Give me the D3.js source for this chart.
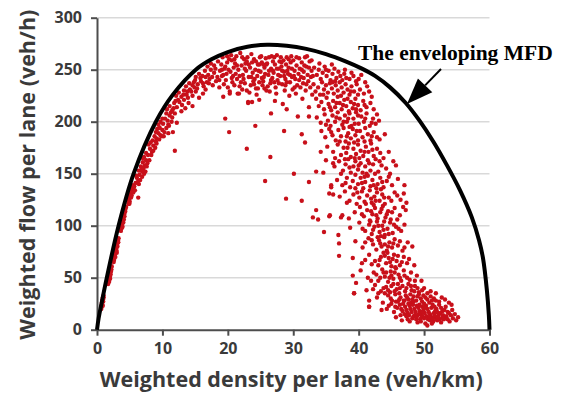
<!DOCTYPE html>
<html>
<head>
<meta charset="utf-8">
<script src="https://cdn.jsdelivr.net/npm/d3@7"></script>
<style>
  html, body { margin: 0; padding: 0; background: #ffffff; }
  svg { display: block; }
</style>
</head>
<body>
<svg id="chart" width="563" height="393"></svg>
<script>
// ---------- data ----------
const xTicks = [0, 10, 20, 30, 40, 50, 60];
const yTicks = [0, 50, 100, 150, 200, 250, 300];
const xTitle = "Weighted density per lane (veh/km)";
const yTitle = "Weighted flow per lane (veh/h)";
const annotationText = "The enveloping MFD";

// enveloping MFD curve: density (veh/km) and flow (veh/h)
const envelopeDensity = [0,0.25,0.75,1.5,3.3,5.6,9.0,11.6,15.1,17.5,20,23,26,29,32,35,38,40.5,42.5,44.8,47.2,49.3,51.4,53.5,55.5,57.3,58.4,59.0,59.6,59.9,60];
const envelopeFlow    = [0,11,27,50,100,150,200,226,250,260,267,272,274,273,270,265,258,251,244,233,218,201,181,158,134,108,86,69,38,14,0];

// observed points [density, flow]
const freeFlowPoints = [
[0.7,22],[0.75,26],[0.8,24],[0.85,29],[0.9,31],[0.95,27],[1.0,33],
[1.7,44],[1.75,47],[1.85,46],[1.9,50],[1.95,53],[2.0,49],[2.05,55],[2.1,57],[2.15,60],[2.2,58],
[2.6,67],[2.65,70],[2.7,72],[2.8,70],[2.85,75],[2.9,78],[3.0,76],[3.05,81],[3.1,83],[3.2,86],[3.25,84],
[3.7,97],[3.75,100],[3.85,102],[3.9,99],[3.95,105],[4.0,108],[4.1,106],[4.15,111],[4.25,113],[4.35,116],
[4.8,121],[4.9,125],[5.0,123],[5.05,128],[5.1,131],[5.2,127],[5.25,134],[5.35,137],[5.4,133],[5.5,139],[5.6,135],[6.3,127],
[0.65,20],[0.72,24],[0.82,27],[0.88,23],[0.92,29],[1.02,31],
[1.72,46],[1.8,49],[1.88,52],[1.98,51],[2.08,53],[2.12,56],[2.25,61],
[2.55,65],[2.62,68],[2.75,73],[2.82,77],[2.95,79],[3.02,74],[3.12,80],[3.15,85],[3.3,88],
[3.65,95],[3.8,98],[3.88,104],[4.02,103],[4.05,110],[4.2,109],[4.3,114],[4.45,118],
[4.75,124],[4.85,128],[4.95,121],[5.15,133],[5.3,129],[5.45,136],[5.55,132],[5.7,138],[5.8,134]
];
const risingPoints = [
[5.9,141],[6.1,146],[6.3,143],[6.5,149],[6.6,144],[6.9,147],[7.2,150],
[6.4,153],[6.7,157],[6.9,152],[7.0,161],[7.3,158],[7.5,163],[7.1,155],[7.7,160],
[7.2,166],[7.5,170],[7.8,168],[8.1,174],[8.4,171],[8.6,177],[8.9,175],[7.9,178],[9.1,179],
[8.5,182],[8.8,186],[9.1,184],[9.4,189],[9.7,187],[10.0,192],[10.3,190],[10.6,194],[9.2,193],[11.6,190],
[9.4,197],[9.7,200],[10.1,198],[10.4,203],[10.8,201],[11.1,206],[11.5,204],[11.9,208],[12.2,199],[10.6,208],[11.0,196],
[10.7,212],[11.1,215],[11.5,211],[11.8,218],[12.2,214],[12.6,219],[13.0,216],[13.5,213],[14.0,218],[14.6,215],[12.4,221],[13.3,221],
[12.1,225],[12.5,228],[12.9,224],[13.3,230],[13.7,226],[14.2,231],[14.6,225],[15.1,229],[15.6,223],[16.2,227],[16.6,231],[13.9,223],
[13.6,234],[14.1,237],[14.6,235],[15.0,240],[15.4,236],[15.9,239],[16.3,234],[16.8,238],[17.2,241],[17.7,235],[18.2,239],[18.7,233],[14.9,233],
[15.1,243],[15.6,246],[16.1,244],[16.5,249],[17.0,245],[17.4,250],[17.9,247],[18.4,243],[18.8,249],[19.3,245],
[16.9,253],[17.4,256],[17.9,254],[18.5,258],[19.0,255],[11.9,172],
[6.0,148],[6.4,140],[6.8,154],[7.4,152],[7.6,157],[7.0,165],[8.0,163],[8.3,168],[8.6,172],[8.2,180],[9.0,181],[9.5,183],
[9.9,186],[9.0,190],[10.2,186],[10.9,189],[9.6,194],[10.0,203],[10.9,197],[11.4,200],[11.3,209],[11.7,213],[12.0,220],
[12.9,210],[13.2,226],[13.8,229],[14.4,229],[14.8,238],[15.3,232],[15.8,242],[16.2,237],[16.6,243],[17.1,237],[17.6,243],
[18.1,251],[18.7,240],[19.1,250]
];
const capacityPoints = [
[19.2,262],[19.5,251],[19.7,240],[19.9,257],[20.0,233],[19.4,236],[19.8,246],
[20.2,260],[20.4,248],[20.6,259],[20.7,238],[20.9,252],[20.3,229],[20.8,244],
[21.1,256],[21.3,263],[21.4,241],[21.6,250],[21.8,234],[21.9,266],[21.5,227],
[22.1,254],[22.3,245],[22.5,260],[22.6,237],[22.8,249],[22.9,230],[22.4,241],[22.7,256],
[23.0,262],[23.2,243],[23.4,252],[23.5,235],[23.7,257],[23.8,247],[23.3,228],[23.9,239],[23.1,219],
[24.0,260],[24.2,250],[24.3,232],[24.5,244],[24.6,255],[24.8,238],[24.9,262],[24.4,226],
[25.0,248],[25.2,257],[25.3,235],[25.5,243],[25.6,252],[25.8,261],[25.9,230],[25.4,239],
[26.0,256],[26.2,245],[26.3,262],[26.5,237],[26.6,251],[26.8,242],[26.9,258],[26.4,229],
[27.0,247],[27.2,255],[27.3,233],[27.5,264],[27.6,240],[27.8,251],[27.9,258],[27.4,227],
[28.0,244],[28.2,253],[28.3,236],[28.5,259],[28.6,248],[28.8,241],[28.9,255],[28.4,217],[28.7,230],
[29.0,262],[29.2,246],[29.3,252],[29.5,238],[29.6,257],[29.8,243],[29.9,231],[29.4,225],
[30.0,259],[30.2,249],[30.3,241],[30.5,254],[30.6,235],[30.8,246],[30.9,261],[30.4,227],[30.7,205],
[31.0,251],[31.2,243],[31.3,257],[31.5,237],[31.6,248],[31.8,262],[31.9,230],[31.4,222],
[32.0,253],[32.2,245],[32.3,239],[32.5,258],[32.6,233],[32.8,249],[32.9,226],[32.4,214],[32.4,205],
[19.6,253],[20.5,264],[21.2,246],[22.0,238],[22.2,262],[23.6,265],[24.1,241],[24.7,249],[25.1,263],[25.7,246],
[26.1,234],[26.7,263],[27.1,238],[27.7,245],[28.1,262],[28.8,235],[29.1,249],[29.7,263],[30.1,244],[31.1,233],
[31.7,254],[32.1,263],[32.7,243],[21.0,235],[24.6,232],[26.9,249],[29.5,245],[22.9,258],[25.4,255],[28.3,249],
[19.1,244],[19.9,263],[20.1,250],[20.6,242],[21.0,260],[21.4,254],[21.8,244],[22.2,231],[22.6,251],[23.2,255],
[23.6,243],[24.0,236],[24.3,258],[24.8,255],[25.2,242],[25.6,232],[25.9,255],[26.3,249],[26.6,240],[27.1,262],
[27.5,251],[27.8,237],[28.2,257],[28.6,244],[29.0,238],[29.3,260],[29.8,251],[30.2,233],[30.5,262],[30.9,240],
[31.3,250],[31.6,242],[32.0,236],[32.4,252],[32.8,259],[33.0,244]
];
const congestedPoints = [
[33.2,252],[33.6,245],[33.9,250],[34.2,241],[34.5,247],[34.8,253],[35.1,244],[35.4,249],[35.7,240],[36.0,246],[36.3,251],[36.6,242],[36.9,248],[37.2,244],[37.5,240],[37.8,246],[38.1,242],[38.6,241],[39.2,244],[40.0,241],[35.9,255],[34.0,256],
[33.1,236],[33.4,229],[33.8,233],[34.1,226],[34.4,238],[34.7,231],[35.0,235],[35.3,228],[35.6,237],[35.9,232],[36.2,227],[36.5,235],[36.8,230],[37.1,238],[37.4,233],[37.7,228],[38.0,236],[38.3,231],[38.6,226],[38.9,234],[39.3,229],[39.7,236],[40.2,231],[40.8,227],[41.3,234],
[33.5,222],[33.9,215],[34.3,219],[34.7,212],[35.1,223],[35.4,217],[35.8,211],[36.1,220],[36.4,214],[36.8,224],[37.1,218],[37.4,212],[37.8,221],[38.1,215],[38.5,210],[38.8,219],[39.1,213],[39.5,222],[39.9,216],[40.3,211],[40.7,220],[41.2,214],[41.8,218],[37.6,216],[39.3,217],
[33.6,204],[34.2,199],[34.8,207],[35.3,201],[35.7,196],[36.0,206],[36.4,200],[36.8,209],[37.1,203],[37.5,197],[37.9,206],[38.2,200],[38.6,208],[38.9,196],[39.2,203],[39.6,209],[40.0,198],[40.4,205],[40.8,200],[41.2,208],[41.7,196],[42.2,203],[42.6,198],[38.4,203],[39.9,206],
[34.3,191],[34.9,185],[35.5,193],[36.0,187],[36.5,182],[36.9,192],[37.3,186],[37.7,194],[38.0,181],[38.4,189],[38.8,184],[39.1,193],[39.5,187],[39.9,182],[40.2,191],[40.6,185],[41.0,194],[41.4,188],[41.8,182],[42.3,190],[42.8,185],[39.7,191],[38.6,195],
[35.2,176],[36.1,171],[36.8,178],[37.3,168],[37.7,175],[38.1,170],[38.5,179],[38.8,166],[39.2,174],[39.6,169],[39.9,178],[40.3,172],[40.7,167],[41.1,176],[41.5,171],[41.9,179],[42.3,167],[42.8,174],[43.3,170],[40.1,165],[38.3,175],
[36.3,157],[37.0,162],[37.6,153],[38.0,159],[38.4,164],[38.8,151],[39.2,157],[39.5,162],[39.9,154],[40.3,160],[40.6,151],[41.0,157],[41.4,163],[41.8,153],[42.2,159],[42.6,164],[43.0,152],[43.5,158],[44.2,155],[45.7,158],[41.2,150],
[36.7,144],[37.5,139],[38.2,146],[38.7,137],[39.1,143],[39.5,149],[39.9,140],[40.3,146],[40.7,136],[41.0,142],[41.4,148],[41.8,138],[42.1,144],[42.5,150],[42.9,140],[43.3,146],[43.8,137],[44.3,143],[45.1,139],[47.0,139],[40.5,141],[42.7,136],
[37.1,128],[37.9,133],[38.6,124],[39.2,130],[39.7,121],[40.1,127],[40.5,133],[40.9,123],[41.3,129],[41.7,134],[42.0,122],[42.4,128],[42.8,132],[43.2,124],[43.6,130],[44.0,121],[44.6,127],[45.5,132],[46.4,125],[47.3,122],[41.9,126],[43.4,135],
[38.5,107],[39.4,113],[40.2,118],[40.8,109],[41.3,115],[41.7,105],[42.1,111],[42.5,117],[42.9,107],[43.3,113],[43.7,119],[44.1,108],[44.5,114],[44.9,106],[45.5,117],[46.3,110],[47.2,115],[42.3,120],[43.9,104],
[38.7,98],[40.1,103],[41.0,95],[41.6,101],[42.0,92],[42.4,99],[42.8,104],[43.2,94],[43.6,100],[44.0,91],[44.4,97],[44.8,103],[45.2,93],[45.7,99],[46.5,95],[43.4,90],[41.8,104],
[39.5,85],[40.6,79],[41.5,88],[42.2,82],[42.7,77],[43.1,86],[43.5,80],[43.9,89],[44.3,76],[44.7,84],[45.1,79],[45.5,87],[46.0,81],[46.7,76],[47.5,84],[44.0,82],[42.9,89],
[39.1,69],[40.5,64],[41.6,72],[42.5,66],[43.0,62],[43.4,70],[43.8,74],[44.2,64],[44.6,69],[45.0,61],[45.4,72],[45.8,66],[46.3,62],[46.9,70],[47.4,64],[44.4,74],[45.6,60],
[39.1,52],[40.3,57],[41.4,50],[42.3,55],[43.0,47],[43.6,58],[44.0,51],[44.5,46],[44.9,56],[45.3,49],[45.7,59],[46.1,53],[46.5,47],[46.9,57],[47.4,50],[48.0,55],[48.6,47],[45.0,52],[43.8,55],
[35.0,250],[36.4,239],[37.9,250],[38.9,247],[39.6,239],[40.4,245],[34.6,226],[36.0,238],[37.3,225],[38.8,229],[39.9,226],[41.0,238],
[41.6,229],[42.0,224],[35.6,214],[36.6,218],[38.3,222],[39.6,212],[40.9,216],[42.3,212],[42.8,207],[35.0,197],[36.6,204],[37.7,200],
[39.4,198],[41.0,203],[42.0,199],[43.1,201],[35.8,190],[37.1,181],[38.2,186],[39.3,180],[40.9,181],[42.0,186],[43.2,183],[44.0,188],
[36.4,165],[37.9,164],[39.4,165],[40.9,171],[42.1,173],[43.8,165],[44.6,171],[37.3,150],[38.6,156],[40.0,158],[41.6,160],[43.2,162],
[44.8,150],[45.3,162],[38.0,141],[39.5,136],[40.9,147],[42.3,139],[43.6,142],[44.6,147],[46.0,145],[38.2,122],[39.8,132],[41.1,121],
[42.6,124],[43.9,127],[45.0,124],[45.9,129],[46.9,131],
[40.5,111],[41.9,114],[42.7,110],[43.5,116],[44.3,111],[45.1,113],[45.9,106],[46.8,118],[40.6,97],[42.2,96],[43.0,100],[43.8,96],
[44.6,92],[45.4,101],[46.1,97],[47.0,101],[41.0,84],[42.0,86],[43.3,83],[44.5,80],[45.3,83],[46.3,85],[47.0,79],[48.2,80],
[41.0,67],[42.0,63],[43.2,67],[44.0,71],[44.8,65],[45.2,68],[46.0,71],[46.6,65],[47.7,68],[48.5,62],[41.9,47],[42.7,53],
[43.3,50],[44.2,55],[44.7,50],[45.5,55],[46.3,50],[47.0,52],[47.8,48],[48.9,52],[49.6,47]
];
const jamPoints = [
[39.6,45],[39.3,35],[41.2,38],[42.5,43],[43.4,37],[44.2,41],[44.8,36],[45.3,44],[45.8,39],[46.2,35],[46.7,42],[47.1,37],[47.6,44],[48.1,38],[48.6,42],[49.2,36],[50.0,40],[51.0,37],[46.0,44],[44.0,35],
[41.6,28],[42.8,31],[43.7,26],[44.5,33],[45.1,28],[45.6,34],[46.0,27],[46.4,31],[46.8,25],[47.2,33],[47.6,29],[48.0,26],[48.4,32],[48.8,28],[49.2,34],[49.7,27],[50.2,31],[50.8,26],[51.5,30],[52.3,27],[53.2,29],[47.9,34],[49.5,30],[46.2,29],
[41.6,22],[43.5,19],[44.6,23],[45.4,17],[45.9,21],[46.3,24],[46.7,18],[47.1,22],[47.5,16],[47.9,20],[48.3,24],[48.7,17],[49.1,21],[49.5,15],[49.9,19],[50.3,23],[50.7,17],[51.1,21],[51.5,16],[51.9,20],[52.3,24],[52.8,18],[53.3,22],[53.8,16],[54.3,19],[48.5,20],[50.5,20],[47.3,19],[49.3,24],[51.3,24],
[45.7,12],[46.6,9],[47.3,13],[47.8,8],[48.2,11],[48.6,14],[49.0,7],[49.4,10],[49.8,13],[50.2,6],[50.5,4],[50.6,10],[51.0,13],[51.4,8],[51.8,11],[52.2,14],[52.6,7],[53.0,10],[53.4,13],[53.9,8],[54.4,11],[54.9,9],[48.8,10],[50.9,9],[52.4,10],[49.6,12],
[47.7,14],[48.1,17],[48.9,13],[49.3,18],[49.7,22],[50.1,16],[50.4,13],[50.9,15],[51.3,11],[51.7,18],[52.1,12],[52.5,16],[52.9,14],[53.2,11],[53.6,17],[50.0,25],[48.4,27],[51.2,28],[46.9,28],[47.8,23],
[42.2,39],[43.0,35],[43.8,40],[44.5,38],[45.0,42],[45.5,37],[46.3,40],[47.3,40],[48.0,42],[48.5,37],[49.0,40],[49.7,38],
[50.5,35],[51.8,35],[44.9,30],[45.7,27],[47.0,28],[47.4,31],[48.2,29],[49.0,32],[49.9,33],[50.5,29],[51.0,32],[51.8,28],
[52.7,31],[53.8,26],[54.2,24],[44.3,20],[45.0,25],[45.6,22],[46.5,20],[47.6,25],[48.9,23],[49.7,17],[50.1,21],[51.6,22],
[52.0,17],[52.6,21],[53.1,19],[54.7,15],[47.0,15],[47.5,10],[48.4,13],[49.2,15],[50.0,11],[50.8,12],[51.6,14],[52.0,9],
[52.8,12],[53.6,10],[54.1,14],[55.2,12],[46.4,14],[49.5,8],[51.2,6]
];
const scatteredPoints = [
[19.6,203],[20.2,190],[24.2,196],[28.6,191],[22.9,174],[26.5,166],[25.7,143],[30.1,150],[26.6,208],[31.3,188],[31.8,180],
[23.1,218],[23.7,219],[19.3,224],[20.3,227],[21.7,227],[24.8,221],[27.2,220],[29.0,212],
[33.5,152],[32.4,142],[34.6,151],[35.8,139],[34.2,171],[35.0,163],[36.1,160],
[28.9,126],[31.3,124],[33.5,115],[33.0,108],[33.8,106],[34.7,94],[35.5,109],[36.9,91],[37.0,83],[37.0,71],
[35.8,137],[35.5,131],[36.1,130],[35.6,110],[37.5,110],[37.3,108],[39.3,35],[41.6,22]
];

// ---------- layout ----------
const plot = { left: 97, right: 489.5, top: 17.7, bottom: 329.7 };

const svg = d3.select("#chart");
const x = d3.scaleLinear().domain([0, 60]).range([plot.left, plot.right]);
const y = d3.scaleLinear().domain([0, 300]).range([plot.bottom, plot.top]);

const axisColor = "#4d4d4d";
const labelColor = "#3a3a3a";
const sans = "'Open Sans', 'Noto Sans', sans-serif";

// gridlines
svg.append("g")
  .selectAll("line")
  .data(yTicks.filter(v => v > 0))
  .join("line")
  .attr("x1", plot.left).attr("x2", plot.right)
  .attr("y1", d => y(d)).attr("y2", d => y(d))
  .attr("stroke", "#d9d9d9").attr("stroke-width", 1.5);

// axes
const yAxis = svg.append("g")
  .attr("transform", `translate(${plot.left},0)`)
  .call(d3.axisLeft(y).tickValues(yTicks).tickSize(6).tickPadding(9).tickSizeOuter(0));
const xAxis = svg.append("g")
  .attr("transform", `translate(0,${plot.bottom})`)
  .call(d3.axisBottom(x).tickValues(xTicks).tickSize(6).tickPadding(7).tickSizeOuter(0));

[yAxis, xAxis].forEach(g => {
  g.select(".domain").attr("stroke", axisColor).attr("stroke-width", 2);
  g.selectAll(".tick line").attr("stroke", axisColor).attr("stroke-width", 2);
  g.selectAll(".tick text")
    .attr("fill", labelColor)
    .style("font-family", sans)
    .style("font-weight", "700")
    .style("font-size", "16px");
});

// points
const allPoints = [].concat(freeFlowPoints, risingPoints, capacityPoints, congestedPoints, jamPoints, scatteredPoints);
svg.append("g")
  .selectAll("circle")
  .data(allPoints)
  .join("circle")
  .attr("cx", d => x(d[0]))
  .attr("cy", d => y(d[1]))
  .attr("r", 2.2)
  .attr("fill", "#c8101a");

// envelope curve
const envelope = envelopeDensity.map((d, i) => [d, envelopeFlow[i]]);
svg.append("path")
  .datum(envelope)
  .attr("fill", "none")
  .attr("stroke", "#000")
  .attr("stroke-width", 4)
  .attr("stroke-linejoin", "round")
  .attr("d", d3.line().x(d => x(d[0])).y(d => y(d[1])).curve(d3.curveCatmullRom.alpha(0.5)));

// axis titles
svg.append("text")
  .attr("x", (plot.left + plot.right) / 2 - 2)
  .attr("y", 387)
  .attr("text-anchor", "middle")
  .attr("fill", labelColor)
  .style("font-family", sans).style("font-weight", "700").style("font-size", "21.5px")
  .text(xTitle);
svg.append("text")
  .attr("transform", `translate(35,${(plot.top + plot.bottom) / 2 + 1}) rotate(-90)`)
  .attr("text-anchor", "middle")
  .attr("fill", labelColor)
  .style("font-family", sans).style("font-weight", "700").style("font-size", "21.5px")
  .text(yTitle);

// annotation
svg.append("text")
  .attr("x", 358).attr("y", 60)
  .attr("fill", "#000")
  .style("font-family", "'Liberation Serif', 'Times New Roman', serif")
  .style("font-weight", "700").style("font-size", "21.5px")
  .text(annotationText);

// arrow: tail near the text, tip on the curve
const tail = [441, 69], tip = [407, 104];
const ang = Math.atan2(tip[1] - tail[1], tip[0] - tail[0]);
const headLen = 26, headHalf = 10;
const base = [tip[0] - headLen * Math.cos(ang), tip[1] - headLen * Math.sin(ang)];
svg.append("line")
  .attr("x1", tail[0]).attr("y1", tail[1])
  .attr("x2", base[0]).attr("y2", base[1])
  .attr("stroke", "#000").attr("stroke-width", 2);
svg.append("path")
  .attr("d", `M${tip[0]},${tip[1]} L${base[0] + headHalf * Math.sin(ang)},${base[1] - headHalf * Math.cos(ang)} L${base[0] - headHalf * Math.sin(ang)},${base[1] + headHalf * Math.cos(ang)} Z`)
  .attr("fill", "#000");
</script>
</body>
</html>
